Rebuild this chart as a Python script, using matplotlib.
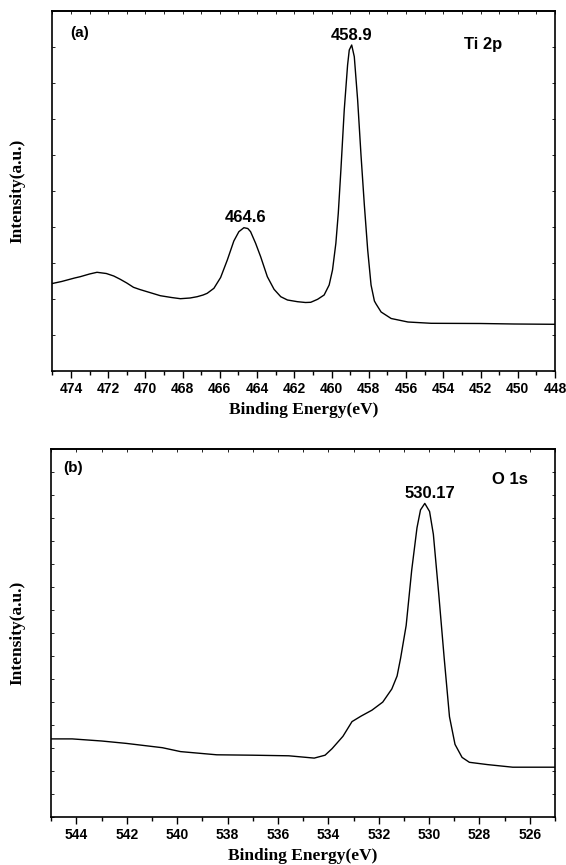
import matplotlib
matplotlib.use("Agg")
import matplotlib.pyplot as plt
import numpy as np

# ---- Panel (a): Ti 2p ----
ti_energy = [475.0, 474.5, 474.2, 473.8, 473.5, 473.0, 472.6, 472.1, 471.7, 471.35,
             471.0, 470.64, 470.3, 469.91, 469.5, 469.2, 468.6, 468.12, 467.6, 467.22,
             466.9, 466.68, 466.32, 465.96, 465.6, 465.25, 464.98, 464.71, 464.5, 464.35,
             464.08, 463.81, 463.45, 463.09, 462.73, 462.37, 461.83, 461.4, 461.12, 460.75,
             460.4, 460.13, 459.95, 459.77, 459.64, 459.5, 459.32, 459.14, 459.05, 458.92,
             458.78, 458.6, 458.42, 458.24, 458.06, 457.88, 457.7, 457.61, 457.34, 456.8,
             455.9, 454.65, 452.0, 450.2, 448.0]
ti_pix = [283.5, 281.5, 280.0, 278.0, 276.7, 274.0, 272.3, 273.5, 276.0, 279.3,
          283.0, 287.3, 289.5, 291.7, 294.0, 295.7, 297.5, 298.7, 298.0, 296.7,
          295.0, 293.3, 288.3, 277.5, 260.0, 241.0, 231.7, 227.7, 228.5, 231.7,
          243.3, 256.7, 276.7, 289.3, 296.7, 300.0, 301.7, 302.5, 302.3, 299.3,
          295.0, 285.0, 270.0, 243.3, 213.3, 170.0, 110.0, 65.0, 50.0, 45.0,
          56.7, 100.0, 155.0, 205.0, 250.0, 285.0, 301.0, 304.0, 312.0, 318.5,
          322.0, 323.3, 323.5, 324.0, 324.3]
ti_intensity = [371.0 - p for p in ti_pix]
ti_xticks = [474, 472, 470, 468, 466, 464, 462, 460, 458, 456, 454, 452, 450, 448]

# ---- Panel (b): O 1s ----
o_energy = [545.0, 544.17, 543.0, 542.02, 540.59, 539.87, 538.43, 537.0, 535.57, 534.56,
            534.13, 533.85, 533.42, 533.06, 532.7, 532.27, 531.84, 531.48, 531.27, 531.13,
            530.91, 530.69, 530.48, 530.34, 530.17, 529.98, 529.83, 529.62, 529.4, 529.19,
            528.97, 528.69, 528.4, 527.68, 526.68, 525.82, 525.0]
o_pix = [738.9, 738.9, 741.0, 743.4, 747.7, 751.6, 754.8, 755.2, 755.8, 758.1,
         755.2, 748.6, 736.3, 721.6, 716.1, 710.2, 702.1, 689.0, 676.0, 658.1,
         625.5, 570.2, 527.8, 509.9, 503.4, 511.5, 534.3, 592.9, 658.1, 716.7,
         744.4, 757.4, 762.3, 764.6, 767.2, 767.2, 767.2]
o_intensity = [817.0 - p for p in o_pix]
o_xticks = [544, 542, 540, 538, 536, 534, 532, 530, 528, 526]

W, H = 566, 865
fig = plt.figure(figsize=(W / 100, H / 100), dpi=100)

serif_bold = dict(family="Liberation Serif", weight="bold", size=12.5)
sans_bold = dict(family="Liberation Sans", weight="bold", size=12)
panel_font = dict(family="Liberation Sans", weight="bold", size=11)


def style_axes(ax, xlim, ylim, xticks, n_yticks, ylab_x):
    ax.set_xlim(*xlim)
    ax.set_ylim(*ylim)
    ax.set_xticks(xticks)
    ax.set_xticks(np.arange(min(xlim), max(xlim) + 0.5, 1.0), minor=True)
    ax.set_yticks(np.linspace(ylim[0], ylim[1], n_yticks))
    ax.tick_params(axis="x", which="major", direction="out", length=5, width=1.0,
                   bottom=True, top=False, labelsize=10, pad=3)
    ax.tick_params(axis="x", which="minor", direction="out", length=3, width=1.0,
                   bottom=True, top=False)
    ax.tick_params(axis="y", which="major", direction="in", length=2.5, width=0.6,
                   left=True, right=True, labelleft=False)
    for lab in ax.get_xticklabels():
        lab.set_fontfamily("Liberation Sans")
        lab.set_fontweight("bold")
    sec = ax.secondary_xaxis("top")
    sec.set_xticks(np.arange(min(xlim), max(xlim) + 0.5, 1.0))
    sec.tick_params(direction="in", length=2.5, width=0.6, labeltop=False)
    for s in ax.spines.values():
        s.set_linewidth(1.2)
    sec.spines["top"].set_linewidth(1.2)
    ax.set_xlabel("Binding Energy(eV)", fontdict=serif_bold, labelpad=4)
    ax.set_ylabel("Intensity(a.u.)", fontdict=serif_bold)
    ax.yaxis.set_label_coords(ylab_x, 0.5)


# top panel
ax1 = fig.add_axes([52.3 / W, (H - 371) / H, (555 - 52.3) / W, (371 - 10.7) / H])
ax1.plot(ti_energy, ti_intensity, color="black", lw=1.0)
style_axes(ax1, (475, 448), (0, 360.3), ti_xticks, 11, -0.054)
ax1.text(0.035, 0.938, "(a)", transform=ax1.transAxes, ha="left", va="center", **panel_font)
ax1.text(0.857, 0.905, "Ti 2p", transform=ax1.transAxes, ha="center", va="center", **sans_bold)
ax1.text(458.9, 328, "458.9", ha="center", va="bottom", **sans_bold)
ax1.text(464.6, 146, "464.6", ha="center", va="bottom", **sans_bold)

# bottom panel
ax2 = fig.add_axes([51.3 / W, (H - 817) / H, (555 - 51.3) / W, (817 - 449) / H])
ax2.plot(o_energy, o_intensity, color="black", lw=1.0)
style_axes(ax2, (545, 525), (0, 368.0), o_xticks, 17, -0.052)
ax2.text(0.023, 0.948, "(b)", transform=ax2.transAxes, ha="left", va="center", **panel_font)
ax2.text(0.91, 0.918, "O 1s", transform=ax2.transAxes, ha="center", va="center", **sans_bold)
ax2.text(529.95, 316, "530.17", ha="center", va="bottom", **sans_bold)

fig.savefig("out.png", dpi=100)
